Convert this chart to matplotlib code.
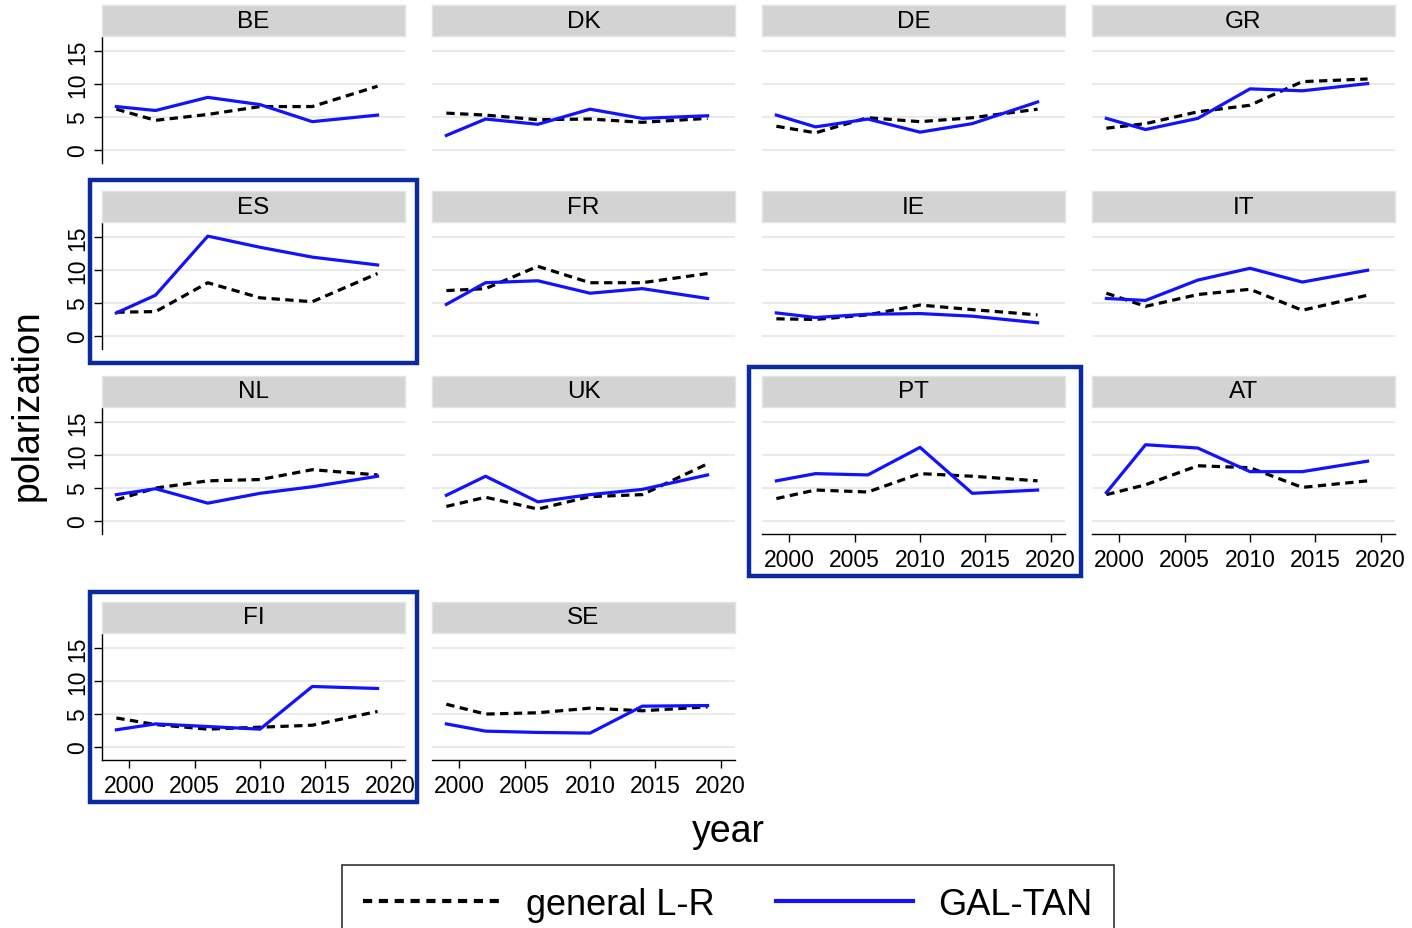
import matplotlib
matplotlib.use("Agg")
import matplotlib.pyplot as plt
from matplotlib.patches import Rectangle
from matplotlib.lines import Line2D

plt.rcParams['font.family'] = ['Liberation Sans', 'DejaVu Sans']

# CHES survey waves
years = [1999, 2002, 2006, 2010, 2014, 2019]
countries = ["BE", "DK", "DE", "GR", "ES", "FR", "IE", "IT",
             "NL", "UK", "PT", "AT", "FI", "SE"]

# general left-right polarization
BE_lr = [6.2, 4.5, 5.4, 6.6, 6.6, 9.7]
DK_lr = [5.6, 5.3, 4.6, 4.7, 4.2, 4.8]
DE_lr = [3.6, 2.6, 4.9, 4.3, 4.9, 6.2]
GR_lr = [3.3, 4.0, 5.8, 6.8, 10.4, 10.8]
ES_lr = [3.6, 3.7, 8.1, 5.8, 5.2, 9.5]
FR_lr = [6.9, 7.2, 10.6, 8.1, 8.1, 9.5]
IE_lr = [2.6, 2.5, 3.2, 4.7, 4.0, 3.2]
IT_lr = [6.5, 4.5, 6.3, 7.1, 3.9, 6.2]
NL_lr = [3.2, 5.0, 6.1, 6.3, 7.8, 7.0]
UK_lr = [2.2, 3.6, 1.8, 3.7, 4.0, 8.7]
PT_lr = [3.4, 4.7, 4.4, 7.2, 6.8, 6.1]
AT_lr = [4.0, 5.5, 8.4, 8.1, 5.1, 6.1]
FI_lr = [4.4, 3.4, 2.7, 3.0, 3.3, 5.4]
SE_lr = [6.5, 5.0, 5.2, 5.9, 5.5, 6.1]

# GAL-TAN polarization
BE_gt = [6.6, 6.0, 8.0, 6.9, 4.3, 5.3]
DK_gt = [2.2, 4.7, 3.9, 6.2, 4.8, 5.2]
DE_gt = [5.3, 3.5, 4.7, 2.7, 4.0, 7.3]
GR_gt = [4.8, 3.1, 4.8, 9.3, 9.0, 10.1]
ES_gt = [3.5, 6.2, 15.2, 13.5, 12.0, 10.8]
FR_gt = [4.8, 8.1, 8.4, 6.5, 7.2, 5.7]
IE_gt = [3.5, 2.8, 3.3, 3.4, 3.0, 2.0]
IT_gt = [5.7, 5.4, 8.5, 10.3, 8.2, 10.0]
NL_gt = [4.0, 4.9, 2.7, 4.2, 5.2, 6.8]
UK_gt = [3.9, 6.8, 2.9, 4.0, 4.8, 7.0]
PT_gt = [6.1, 7.2, 7.0, 11.2, 4.2, 4.7]
AT_gt = [4.3, 11.6, 11.1, 7.5, 7.5, 9.1]
FI_gt = [2.6, 3.5, 3.1, 2.7, 9.2, 8.9]
SE_gt = [3.5, 2.4, 2.2, 2.1, 6.2, 6.3]

lr = {"BE": BE_lr, "DK": DK_lr, "DE": DE_lr, "GR": GR_lr, "ES": ES_lr,
      "FR": FR_lr, "IE": IE_lr, "IT": IT_lr, "NL": NL_lr, "UK": UK_lr,
      "PT": PT_lr, "AT": AT_lr, "FI": FI_lr, "SE": SE_lr}
gt = {"BE": BE_gt, "DK": DK_gt, "DE": DE_gt, "GR": GR_gt, "ES": ES_gt,
      "FR": FR_gt, "IE": IE_gt, "IT": IT_gt, "NL": NL_gt, "UK": UK_gt,
      "PT": PT_gt, "AT": AT_gt, "FI": FI_gt, "SE": SE_gt}

y_ticks = [0, 5, 10, 15]
x_ticks = [2000, 2005, 2010, 2015, 2020]
highlight = ["ES", "PT", "FI"]

W, H = 1412, 929
fig = plt.figure(figsize=(W / 100, H / 100), dpi=100)


def px(x0, y0, x1, y1):
    # pixel box (top-left origin) -> figure fraction rect
    return [x0 / W, 1 - y1 / H, (x1 - x0) / W, (y1 - y0) / H]


col_x = [(102, 405), (432, 735), (762, 1065), (1092, 1395)]
row_y = [(38, 164), (224, 350), (409, 535), (635, 761)]
x_axis_panels = ["PT", "AT", "FI", "SE"]

dash = (0, (2.6, 1.7))
blue = "#1212ff"
grid_col = "#e8e8e8"
tick_fs = 16.5

for i, c in enumerate(countries):
    r, k = divmod(i, 4)
    x0, x1 = col_x[k]
    y0, y1 = row_y[r]
    ax = fig.add_axes(px(x0, y0, x1, y1))
    ax.set_xlim(1997.9, 2021.1)
    ax.set_ylim(-2, 17.2)
    for v in y_ticks:
        ax.axhline(v, color=grid_col, lw=1.3, zorder=0)
    ax.plot(years, lr[c], color="black", lw=2.3, ls=dash, zorder=2)
    ax.plot(years, gt[c], color=blue, lw=2.3, zorder=3)

    for s in ax.spines.values():
        s.set_visible(False)
    ax.set_xticks([])
    ax.set_yticks([])

    if k == 0:
        ax.spines["left"].set_visible(True)
        ax.spines["left"].set_linewidth(1.0)
        ax.set_yticks(y_ticks)
        ax.set_yticklabels([str(v) for v in y_ticks], rotation=90,
                           va="center", fontsize=tick_fs)
        ax.tick_params(axis="y", length=6, width=1.0, pad=3)
    if c in x_axis_panels:
        ax.spines["bottom"].set_visible(True)
        ax.spines["bottom"].set_linewidth(1.0)
        ax.set_xticks(x_ticks)
        ax.set_xticklabels([str(v) for v in x_ticks], fontsize=tick_fs)
        ax.tick_params(axis="x", length=6, width=1.0, pad=4)

    # strip header
    sx = fig.add_axes(px(x0, y0 - 32, x1, y0 - 1))
    sx.set_facecolor("#d3d3d3")
    sx.set_xticks([])
    sx.set_yticks([])
    for s in sx.spines.values():
        s.set_edgecolor("#dfe6ea")
        s.set_linewidth(1.0)
    sx.text(0.5, 0.5, c, ha="center", va="center", fontsize=17.5,
            transform=sx.transAxes)

# boxes drawn around selected countries
boxes = {"ES": (90, 181, 417, 364), "PT": (749, 368, 1081, 577),
         "FI": (90, 593, 417, 803)}
for c in highlight:
    bx0, by0, bx1, by1 = boxes[c]
    fx, fy, fw, fh = px(bx0, by0, bx1, by1)
    fig.patches.append(Rectangle((fx, fy), fw, fh, transform=fig.transFigure,
                                 fill=False, edgecolor="#0a2a9e", lw=3.2,
                                 zorder=10))

fig.text(28 / W, 1 - 405 / H, "polarization", rotation=90, ha="center",
         va="center", fontsize=27)
fig.text(728 / W, 1 - 832 / H, "year", ha="center", va="center", fontsize=27)

handles = [Line2D([], [], color="black", lw=3.0, ls=(0, (2.2, 1.6))),
           Line2D([], [], color=blue, lw=3.0)]
leg = fig.legend(handles, ["general L-R", "GAL-TAN"], loc="upper center",
                 bbox_to_anchor=(728 / W, 1 - 866 / H), ncol=2, fontsize=26,
                 frameon=True, fancybox=False, edgecolor="black",
                 handlelength=3.8, handletextpad=0.7, columnspacing=1.7,
                 borderpad=0.6, borderaxespad=0)
leg.get_frame().set_linewidth(1.2)

fig.savefig("out.png", dpi=100, facecolor="white")
